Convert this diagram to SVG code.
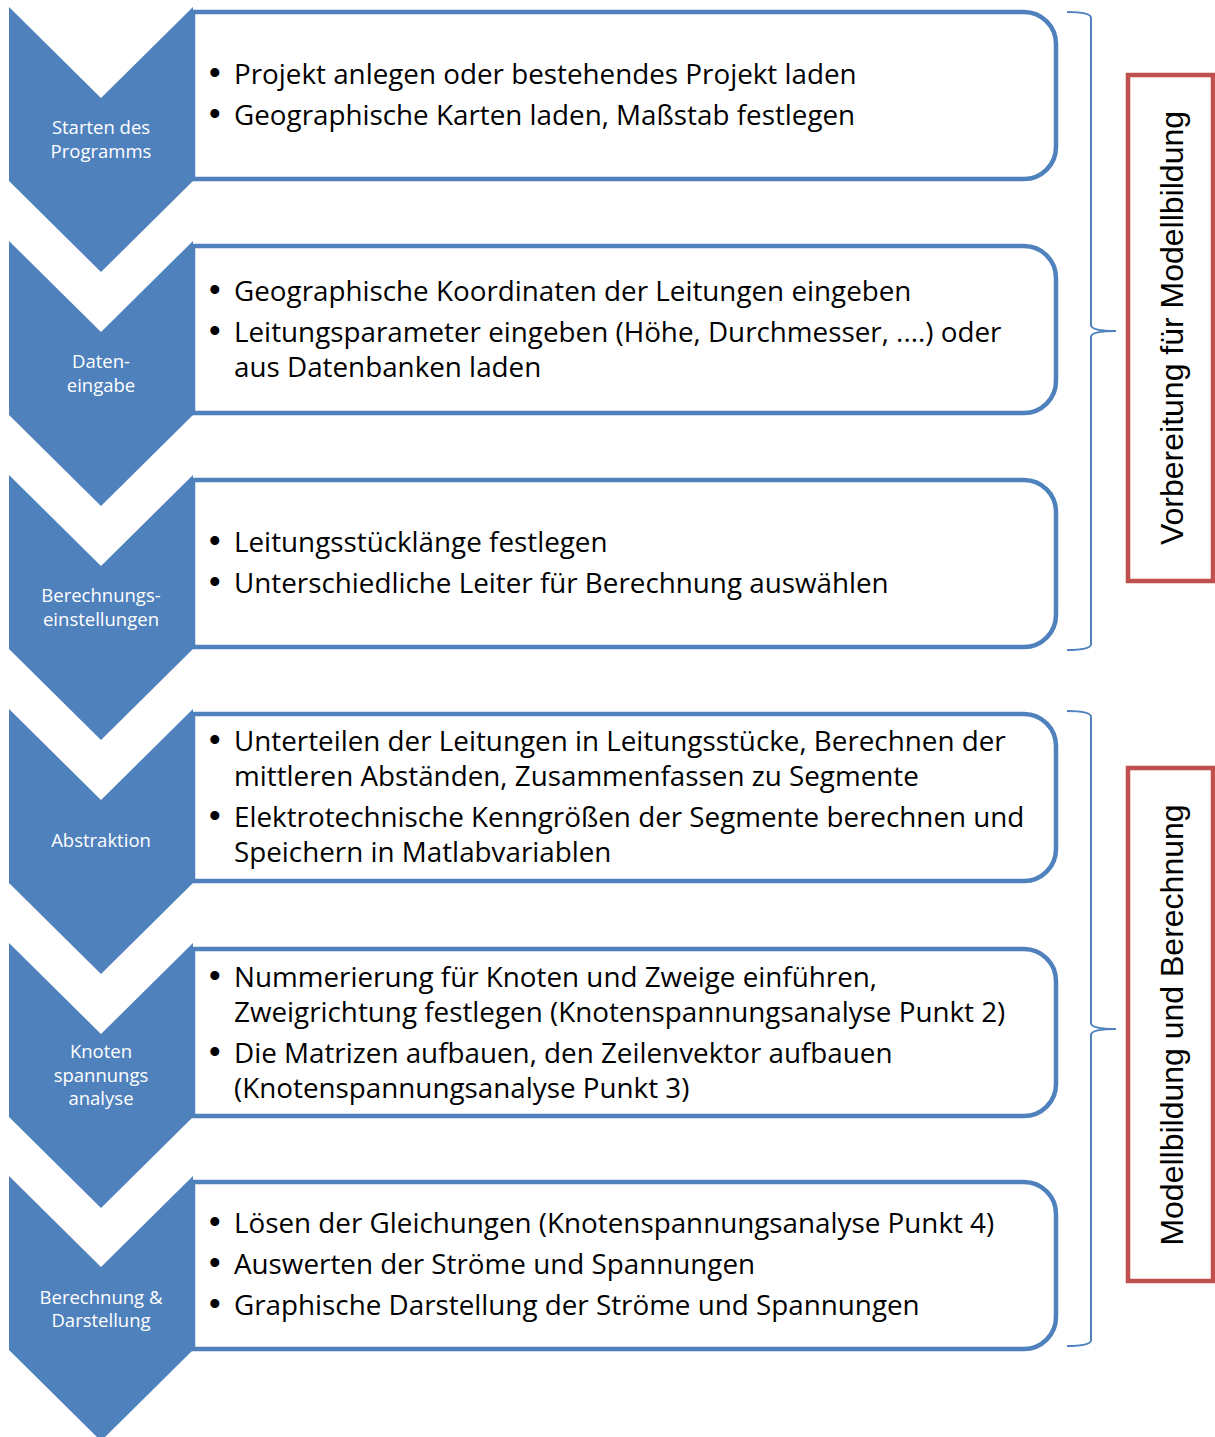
<svg xmlns="http://www.w3.org/2000/svg" width="1215" height="1437" viewBox="0 0 1215 1437">
<style>
.chev{fill:#4F81BD}
.box{fill:#FFFFFF;stroke:#4F81BD;stroke-width:4.5}
.lbl{font-family:"Open Sans","Noto Sans",sans-serif;font-size:18.5px;fill:#FFFFFF;text-anchor:middle}
.txt{font-family:"Open Sans","Noto Sans",sans-serif;font-size:27.8px;fill:#000000}
.b{font-family:"Liberation Sans",Arial,sans-serif;font-size:33px}
.brace{fill:none;stroke:#4F81BD;stroke-width:2}
.red{fill:none;stroke:#C0504D;stroke-width:4.5}
.vt{font-family:"Liberation Sans",Arial,sans-serif;font-size:32px;fill:#000000;text-anchor:middle}
</style>
<rect width="1215" height="1437" fill="#FFFFFF"/>
<g id="step1">
<path class="box" d="M193,12 H1024 A32,32 0 0 1 1056,44 V147 A32,32 0 0 1 1024,179 H193 Z"/>
<polygon class="chev" points="9,7 101,98 193,7 193,181 101,272 9,181"/>
<text class="lbl"><tspan x="101" y="134">Starten des</tspan><tspan x="101" y="158">Programms</tspan></text>
<text class="txt" y="84"><tspan class="b" x="209">•</tspan><tspan x="234">Projekt anlegen oder bestehendes Projekt laden</tspan></text>
<text class="txt" y="125"><tspan class="b" x="209">•</tspan><tspan x="234">Geographische Karten laden, Maßstab festlegen</tspan></text>
</g>
<g id="step2">
<path class="box" d="M193,246 H1024 A32,32 0 0 1 1056,278 V381 A32,32 0 0 1 1024,413 H193 Z"/>
<polygon class="chev" points="9,241 101,332 193,241 193,415 101,506 9,415"/>
<text class="lbl"><tspan x="101" y="368">Daten-</tspan><tspan x="101" y="392">eingabe</tspan></text>
<text class="txt" y="301"><tspan class="b" x="209">•</tspan><tspan x="234">Geographische Koordinaten der Leitungen eingeben</tspan></text>
<text class="txt"><tspan class="b" x="209" y="342">•</tspan><tspan x="234" y="342">Leitungsparameter eingeben (Höhe, Durchmesser, ....) oder</tspan><tspan x="234" y="377">aus Datenbanken laden</tspan></text>
</g>
<g id="step3">
<path class="box" d="M193,480 H1024 A32,32 0 0 1 1056,512 V615 A32,32 0 0 1 1024,647 H193 Z"/>
<polygon class="chev" points="9,475 101,566 193,475 193,649 101,740 9,649"/>
<text class="lbl"><tspan x="101" y="602">Berechnungs-</tspan><tspan x="101" y="626">einstellungen</tspan></text>
<text class="txt" y="552"><tspan class="b" x="209">•</tspan><tspan x="234">Leitungsstücklänge festlegen</tspan></text>
<text class="txt" y="593"><tspan class="b" x="209">•</tspan><tspan x="234">Unterschiedliche Leiter für Berechnung auswählen</tspan></text>
</g>
<g id="step4">
<path class="box" d="M193,714 H1024 A32,32 0 0 1 1056,746 V849 A32,32 0 0 1 1024,881 H193 Z"/>
<polygon class="chev" points="9,709 101,800 193,709 193,883 101,974 9,883"/>
<text class="lbl"><tspan x="101" y="847">Abstraktion</tspan></text>
<text class="txt"><tspan class="b" x="209" y="751">•</tspan><tspan x="234" y="751">Unterteilen der Leitungen in Leitungsstücke, Berechnen der</tspan><tspan x="234" y="786">mittleren Abständen, Zusammenfassen zu Segmente</tspan></text>
<text class="txt"><tspan class="b" x="209" y="827">•</tspan><tspan x="234" y="827">Elektrotechnische Kenngrößen der Segmente berechnen und</tspan><tspan x="234" y="862">Speichern in Matlabvariablen</tspan></text>
</g>
<g id="step5">
<path class="box" d="M193,949 H1024 A32,32 0 0 1 1056,981 V1084 A32,32 0 0 1 1024,1116 H193 Z"/>
<polygon class="chev" points="9,943 101,1034 193,943 193,1117 101,1208 9,1117"/>
<text class="lbl"><tspan x="101" y="1058">Knoten</tspan><tspan x="101" y="1082">spannungs</tspan><tspan x="101" y="1105">analyse</tspan></text>
<text class="txt"><tspan class="b" x="209" y="987">•</tspan><tspan x="234" y="987">Nummerierung für Knoten und Zweige einführen,</tspan><tspan x="234" y="1022">Zweigrichtung festlegen (Knotenspannungsanalyse Punkt 2)</tspan></text>
<text class="txt"><tspan class="b" x="209" y="1063">•</tspan><tspan x="234" y="1063">Die Matrizen aufbauen, den Zeilenvektor aufbauen</tspan><tspan x="234" y="1098">(Knotenspannungsanalyse Punkt 3)</tspan></text>
</g>
<g id="step6">
<path class="box" d="M193,1182 H1024 A32,32 0 0 1 1056,1214 V1317 A32,32 0 0 1 1024,1349 H193 Z"/>
<polygon class="chev" points="9,1176 101,1267 193,1176 193,1350 101,1441 9,1350"/>
<text class="lbl"><tspan x="101" y="1304">Berechnung &amp;</tspan><tspan x="101" y="1327">Darstellung</tspan></text>
<text class="txt" y="1233"><tspan class="b" x="209">•</tspan><tspan x="234">Lösen der Gleichungen (Knotenspannungsanalyse Punkt 4)</tspan></text>
<text class="txt" y="1274"><tspan class="b" x="209">•</tspan><tspan x="234">Auswerten der Ströme und Spannungen</tspan></text>
<text class="txt" y="1315"><tspan class="b" x="209">•</tspan><tspan x="234">Graphische Darstellung der Ströme und Spannungen</tspan></text>
</g>
<g id="connectors">
<path class="brace" d="M1067,12 Q1091,12 1091,18 V325 Q1091,331 1116,331 Q1091,331 1091,337 V644 Q1091,650 1067,650"/>
<path class="brace" d="M1067,711 Q1091,711 1091,717 V1023 Q1091,1029 1116,1029 Q1091,1029 1091,1035 V1340 Q1091,1346 1067,1346"/>
</g>
<g id="group1">
<rect class="red" x="1128" y="75" width="85" height="506"/>
<text class="vt" transform="translate(1183,328) rotate(-90)">Vorbereitung für Modellbildung</text>
</g>
<g id="group2">
<rect class="red" x="1128" y="768" width="85" height="513"/>
<text class="vt" transform="translate(1183,1025) rotate(-90)">Modellbildung und Berechnung</text>
</g>
</svg>
